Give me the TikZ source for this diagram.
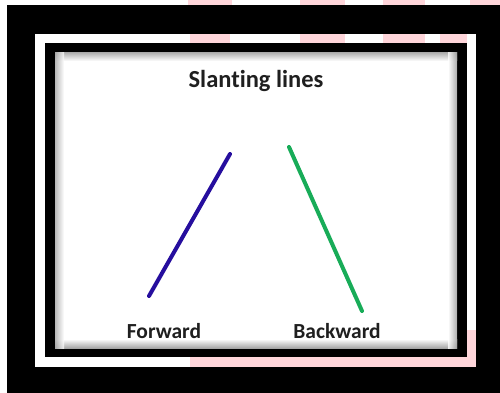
\documentclass[tikz,border=0pt]{standalone}
\usepackage{fontspec}
\setmainfont{Carlito}[Ligatures={NoCommon,NoRare,NoContextual}]
\definecolor{fwdblue}{RGB}{38,14,158}
\definecolor{bwdgreen}{RGB}{24,172,88}
\definecolor{stripe}{RGB}{255,214,219}
\tikzset{
  label/.style={font=\bfseries\fontsize{21.5}{24}\selectfont, text=black!88, anchor=base, inner sep=0pt},
  title/.style={font=\bfseries\fontsize{24.5}{28}\selectfont, text=black!88, anchor=base, inner sep=0pt},
  slant/.style={line width=4pt, line cap=round},
}
\begin{document}
\begin{tikzpicture}[x=1pt,y=-1pt]
\useasboundingbox (0,0) rectangle (500,393);
\fill[white] (0,0) rectangle (500,393);
% faint pink stripes in the top margin
\foreach \a/\b in {188/232, 300/345, 383/425, 470/500} \fill[stripe] (\a,0) rectangle (\b,5);
% outer black frame
\fill[black] (7,5) rectangle (500,393);
% white band
\fill[white] (35,34) rectangle (476,367);
\foreach \a/\b in {190/230, 300/345, 383/425, 440/467} \fill[stripe] (\a,34) rectangle (\b,43);
\fill[stripe] (190,357) rectangle (476,367);
\fill[stripe] (467,330) rectangle (476,367);
% inner black frame
\fill[black] (45,43) rectangle (467,357);
% panel with inner shadow
\fill[white] (55,53) rectangle (457,348);
\shade[top color=black!30, bottom color=white] (55,53) rectangle (457,61);
\shade[bottom color=black!35, top color=white] (55,339) rectangle (457,348);
\shade[left color=black!35, right color=white, opacity=0.8] (55,53) rectangle (64,348);
\shade[right color=black!40, left color=white, opacity=0.8] (448,53) rectangle (457,348);
% texts
\node[title] (t) at (256,88) {Slanting lines};
\node[label] (f) at (164,338) {Forward};
\node[label] (b) at (337,338) {Backward};
% lines
\coordinate (f1) at (149,296);
\coordinate (f2) at (230,154);
\coordinate (b1) at (289,147);
\coordinate (b2) at (362,311);
\draw[slant, fwdblue] (f1) -- (f2);
\draw[slant, bwdgreen] (b1) -- (b2);
\end{tikzpicture}
\end{document}
